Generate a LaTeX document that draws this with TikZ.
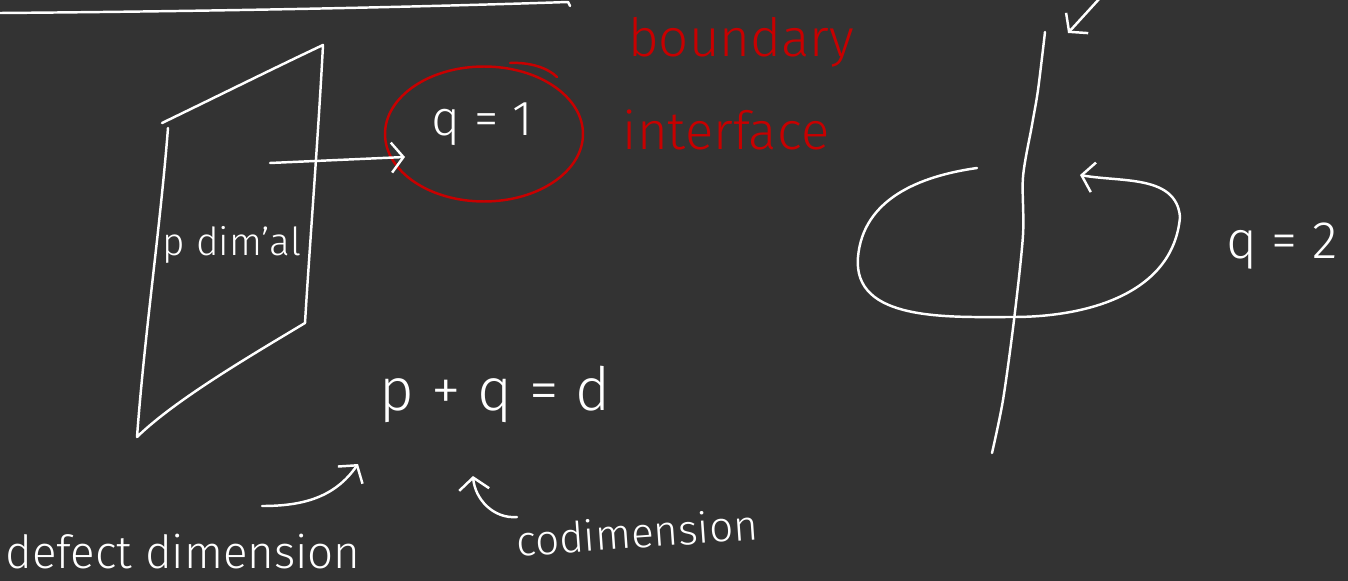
\documentclass[tikz,border=0pt]{standalone}
\usepackage{fontspec}
\setmainfont{Fira Sans Light}
\usetikzlibrary{arrows.meta,shapes.geometric}

\begin{document}
\begin{tikzpicture}[x=0.02cm, y=-0.02cm, line width=1.4pt, line cap=round, line join=round,
    every node/.style={inner sep=0pt, text=chalk, anchor=base},
    hand/.style={draw=chalk},
    arr/.style={draw=chalk, -{Straight Barb[length=2.4mm, width=6mm]}}] % pixel-like units
        % Define the colors
        \definecolor{board}{HTML}{333333}
        \definecolor{chalk}{HTML}{FFFFFF}
        \definecolor{redink}{HTML}{C80000}

        % The board itself
        \fill[board] (0,0) rectangle (1348,581);
        \useasboundingbox (0,0) rectangle (1348,581);

        % Line at the top
        \draw[hand] (0,13) .. controls (250,11) and (450,6) .. (568,2) -- (570,6);

        % Draw the p dimensional sheet
        \draw[hand] (162,123) .. controls (220,95) and (270,70) .. (323,45)
            .. controls (318,140) and (310,240) .. (305,323)
            .. controls (250,356) and (175,400) .. (137,437)
            .. controls (145,330) and (160,230) .. (168,128);
        \node[font=\fontsize{22pt}{26pt}\selectfont] (pdim) at (232,255) {p dim'al};

        % Draw the red ring with q = 1
        \node[font=\fontsize{28pt}{32pt}\selectfont] (qone) at (482,135) {q = 1};
        \node[ellipse, draw=redink, minimum width=3.96cm, minimum height=2.7cm, anchor=center] (qring) at (484,134) {};
        \draw[redink] (510,63) .. controls (530,62) and (548,68) .. (557,77);

        % Red labels
        \node[text=redink, font=\fontsize{30pt}{34pt}\selectfont] (bdry) at (741,57) {boundary};
        \node[text=redink, font=\fontsize{30pt}{34pt}\selectfont] (iface) at (726,150) {interface};

        % Draw the arrow from the sheet to the ring
        \coordinate (sheetin) at (270,163);
        \coordinate (ringin) at (405,157);
        \draw[arr] (sheetin) -- (ringin);

        % The relation and its labels
        \node[font=\fontsize{34pt}{38pt}\selectfont] (eqn) at (495,410) {p + q = d};
        \node[font=\fontsize{26pt}{30pt}\selectfont] (defect) at (183,568) {defect dimension};
        \node[font=\fontsize{24pt}{28pt}\selectfont, rotate=4] (codim) at (638,548) {codimension};

        % Draw the arrows from the labels to p and q
        \coordinate (defecttail) at (262,506);
        \coordinate (ptip) at (358,464);
        \draw[arr] (defecttail) to[out=0, in=-125] (ptip);
        \coordinate (codimtail) at (517,517);
        \coordinate (qtip) at (473,476);
        \draw[arr] (codimtail) to[out=185, in=-85] (qtip);

        % Draw the line defect and the loop round it
        \draw[hand] plot[smooth] coordinates {(1045,32) (1038,90) (1032,125) (1023,177) (1023,235) (1014,320) (1003,400) (992,453)};
        \coordinate (topin) at (1100,-2);
        \coordinate (linetop) at (1068,33);
        \draw[arr] (topin) -- (linetop);

        \coordinate (loopa) at (977,168);
        \coordinate (loopb) at (858,257);
        \coordinate (loopc) at (1013,317);
        \coordinate (loopd) at (1180,217);
        \coordinate (looptip) at (1080,175);
        \draw[arr] (loopa) to[out=188, in=85] (loopb) to[out=-95, in=180] (loopc)
            to[out=0, in=-95] (loopd) to[out=95, in=-10] (looptip);
        \node[font=\fontsize{30pt}{34pt}\selectfont] (qtwo) at (1282,258) {q = 2};

\end{tikzpicture}
\end{document}
